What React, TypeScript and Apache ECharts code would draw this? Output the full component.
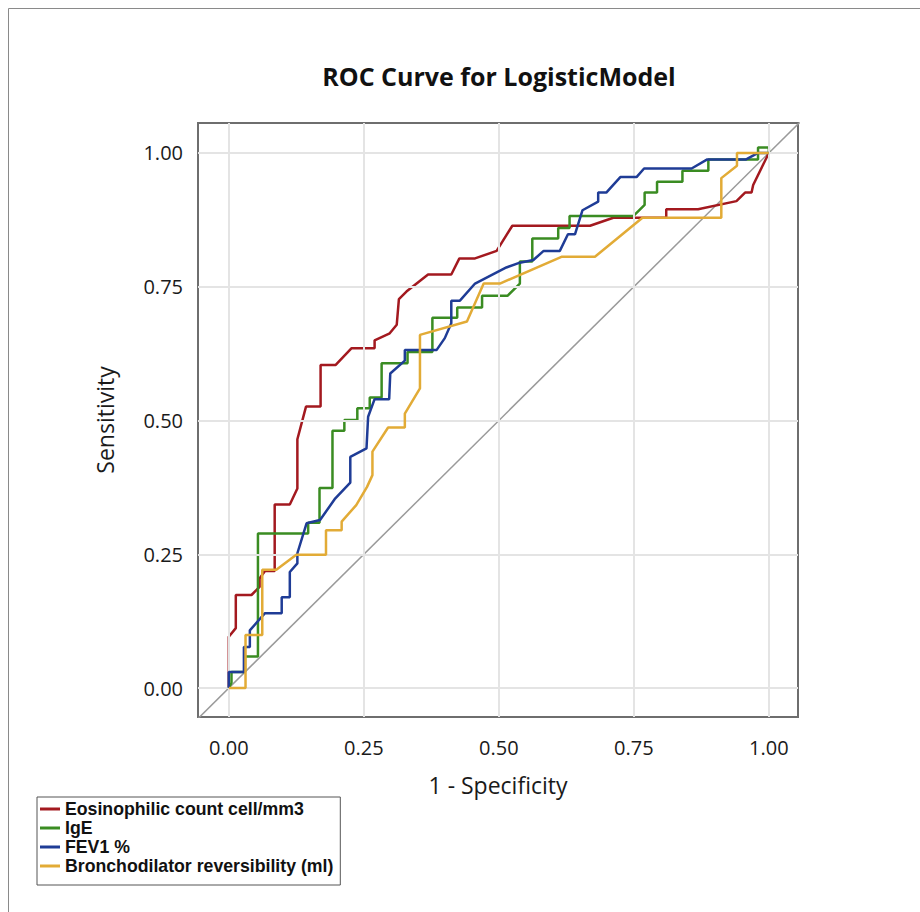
import React, { useEffect, useRef } from "react";
import * as echarts from "echarts";

const tickValues = [0, 0.25, 0.5, 0.75, 1];
const seriesNames = [
  "Eosinophilic count cell/mm3",
  "IgE",
  "FEV1 %",
  "Bronchodilator reversibility (ml)",
];
const seriesColors = ["#a3191f", "#3a8c22", "#1f3c96", "#e2ab36"];

const eosinophil: [number, number][] = [
  [0, 0], [0, 0.096], [0.013, 0.112], [0.013, 0.174], [0.042, 0.174], [0.057, 0.189],
  [0.057, 0.205], [0.067, 0.219], [0.085, 0.219], [0.085, 0.343], [0.113, 0.343],
  [0.127, 0.373], [0.127, 0.465], [0.143, 0.526], [0.17, 0.526], [0.17, 0.604],
  [0.198, 0.604], [0.227, 0.635], [0.27, 0.635], [0.27, 0.65], [0.298, 0.663],
  [0.311, 0.679], [0.315, 0.727], [0.329, 0.741], [0.369, 0.773], [0.412, 0.773],
  [0.427, 0.803], [0.456, 0.803], [0.496, 0.817], [0.525, 0.864], [0.669, 0.864],
  [0.712, 0.879], [0.81, 0.879], [0.81, 0.895], [0.869, 0.895], [0.94, 0.91],
  [0.956, 0.926], [0.968, 0.926], [0.971, 0.94], [1, 1],
];

const ige: [number, number][] = [
  [0, 0], [0.005, 0.01], [0.005, 0.03], [0.03, 0.03], [0.03, 0.059], [0.054, 0.059],
  [0.054, 0.289], [0.147, 0.289], [0.147, 0.309], [0.168, 0.309], [0.168, 0.374],
  [0.192, 0.374], [0.192, 0.481], [0.214, 0.481], [0.214, 0.501], [0.238, 0.501],
  [0.238, 0.523], [0.261, 0.523], [0.261, 0.543], [0.283, 0.543], [0.283, 0.607],
  [0.331, 0.607], [0.331, 0.628], [0.377, 0.628], [0.377, 0.692], [0.423, 0.692],
  [0.423, 0.711], [0.469, 0.711], [0.469, 0.733], [0.516, 0.733], [0.539, 0.756],
  [0.539, 0.797], [0.562, 0.797], [0.562, 0.84], [0.61, 0.84], [0.61, 0.86],
  [0.631, 0.86], [0.631, 0.882], [0.749, 0.882], [0.77, 0.903], [0.77, 0.926],
  [0.793, 0.926], [0.793, 0.946], [0.84, 0.946], [0.84, 0.967], [0.888, 0.967],
  [0.888, 0.988], [0.98, 0.988], [0.98, 1.01], [1, 1.01], [1, 1],
];

const fev1: [number, number][] = [
  [0, 0], [0, 0.03], [0.028, 0.03], [0.028, 0.077], [0.039, 0.077], [0.039, 0.108],
  [0.067, 0.14], [0.098, 0.14], [0.098, 0.17], [0.113, 0.17], [0.113, 0.217],
  [0.127, 0.233], [0.127, 0.252], [0.144, 0.308], [0.169, 0.314], [0.196, 0.353],
  [0.225, 0.384], [0.225, 0.432], [0.255, 0.448], [0.258, 0.507], [0.27, 0.54],
  [0.297, 0.54], [0.299, 0.588], [0.326, 0.612], [0.326, 0.632], [0.385, 0.632],
  [0.4, 0.654], [0.412, 0.682], [0.412, 0.724], [0.428, 0.724], [0.456, 0.756],
  [0.514, 0.786], [0.539, 0.795], [0.564, 0.8], [0.583, 0.817], [0.613, 0.817],
  [0.628, 0.848], [0.641, 0.848], [0.655, 0.893], [0.684, 0.909], [0.684, 0.926],
  [0.699, 0.926], [0.725, 0.955], [0.755, 0.955], [0.769, 0.971], [0.857, 0.971],
  [0.886, 0.988], [0.958, 0.988], [0.98, 1.0], [1, 1],
];

const bronchodilator: [number, number][] = [
  [0, 0], [0.031, 0], [0.031, 0.099], [0.062, 0.099], [0.062, 0.221], [0.088, 0.221],
  [0.125, 0.249], [0.18, 0.249], [0.18, 0.295], [0.209, 0.295], [0.209, 0.311],
  [0.236, 0.342], [0.256, 0.376], [0.266, 0.398], [0.266, 0.442], [0.295, 0.487],
  [0.326, 0.487], [0.326, 0.513], [0.354, 0.56], [0.354, 0.66], [0.441, 0.685],
  [0.472, 0.756], [0.502, 0.756], [0.616, 0.806], [0.678, 0.806], [0.766, 0.879],
  [0.912, 0.879], [0.912, 0.953], [0.941, 0.976], [0.941, 1.0], [1, 1],
];

const referenceLine: [number, number][] = [[-0.06, -0.06], [1.06, 1.06]];

const curves = [eosinophil, ige, fev1, bronchodilator];

export default function App() {
  const ref = useRef<HTMLDivElement>(null);
  useEffect(() => {
    if (!ref.current) return;
    const chart = echarts.init(ref.current, undefined, { renderer: "svg" });
    const font = "'Open Sans', 'Noto Sans', sans-serif";
    const axisCommon = {
      type: "value" as const,
      splitLine: { show: false },
      axisLine: { show: false },
      axisTick: {
        show: true,
        customValues: tickValues,
        length: 6,
        lineStyle: { color: "#666", width: 1.5 },
      },
      axisLabel: {
        customValues: tickValues,
        formatter: (v: number) => v.toFixed(2),
        fontFamily: font,
        fontSize: 20,
        color: "#1a1a1a",
      },
      nameLocation: "middle" as const,
      nameTextStyle: { fontFamily: font, fontSize: 23, color: "#1a1a1a" },
    };
    chart.setOption({
      animation: false,
      backgroundColor: "#fff",
      title: {
        text: "ROC Curve for LogisticModel",
        left: 494,
        top: 58,
        textAlign: "center",
        textStyle: { fontFamily: font, fontWeight: "bold", fontSize: 25, color: "#111" },
      },
      grid: {
        left: 198,
        top: 123,
        width: 600,
        height: 594,
        show: true,
        borderColor: "#6e6e6e",
        borderWidth: 2,
        backgroundColor: "transparent",
      },
      xAxis: {
        ...axisCommon,
        min: -0.057,
        max: 1.054,
        name: "1 - Specificity",
        nameGap: 56,
        axisLabel: { ...axisCommon.axisLabel, margin: 20 },
      },
      yAxis: {
        ...axisCommon,
        min: -0.054,
        max: 1.056,
        name: "Sensitivity",
        nameGap: 82,
        axisLabel: { ...axisCommon.axisLabel, margin: 15 },
      },
      legend: {
        orient: "vertical",
        left: 37,
        top: 797,
        padding: [3, 7, 10, 3],
        itemGap: 1,
        itemWidth: 20,
        itemHeight: 3,
        icon: "rect",
        borderColor: "#555",
        borderWidth: 1,
        data: seriesNames,
        textStyle: {
          fontFamily: "'Liberation Sans', Arial, sans-serif",
          fontWeight: "bold",
          fontSize: 17.7,
          color: "#111",
        },
      },
      graphic: [
        {
          type: "rect",
          shape: { x: 8.5, y: 8.5, width: 1000, height: 1000 },
          style: { fill: "none", stroke: "#8a8a8a", lineWidth: 1 },
          silent: true,
        },
      ],
      series: [
        {
          type: "line",
          name: "reference",
          data: referenceLine,
          showSymbol: false,
          symbol: "none",
          z: 1,
          lineStyle: { color: "#9a9a9a", width: 1.5 },
          markLine: {
            silent: true,
            symbol: "none",
            label: { show: false },
            lineStyle: { color: "#e4e4e4", width: 2, type: "solid" },
            data: [
              ...tickValues.map((v) => ({ xAxis: v })),
              ...tickValues.map((v) => ({ yAxis: v })),
            ],
          },
        },
        ...curves.map((d, i) => ({
          type: "line",
          name: seriesNames[i],
          data: d,
          showSymbol: false,
          symbol: "none",
          z: 3 + i,
          color: seriesColors[i],
          lineStyle: { color: seriesColors[i], width: 2.5 },
        })),
      ],
    });
    return () => chart.dispose();
  }, []);
  return (
    <div
      ref={ref}
      style={{ position: "absolute", left: 0, top: 0, width: 920, height: 912 }}
    />
  );
}
